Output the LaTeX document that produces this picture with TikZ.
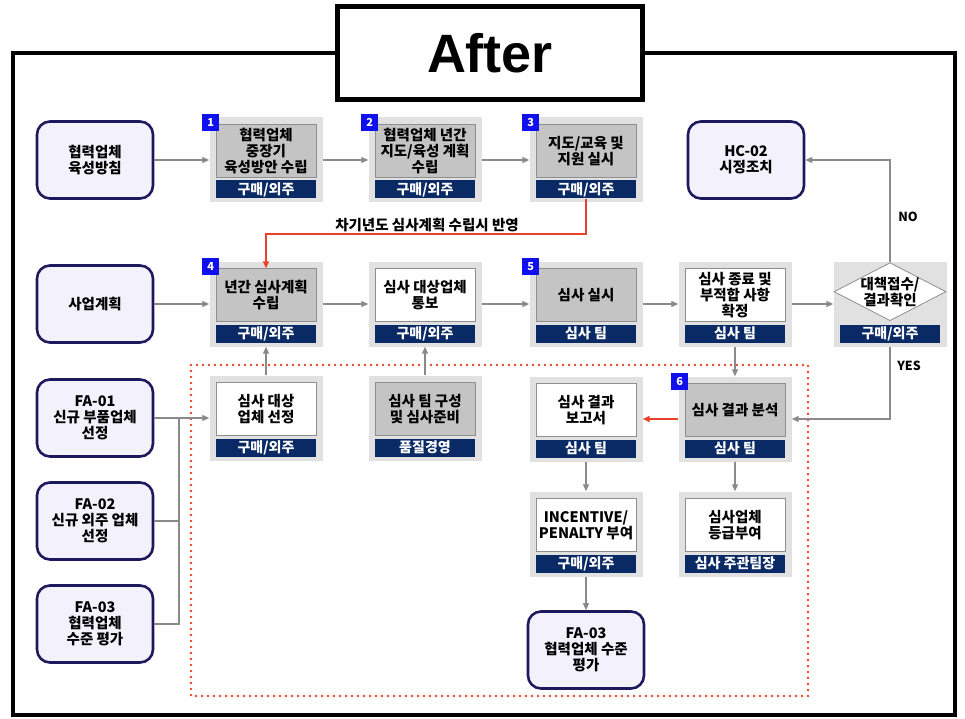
\documentclass[tikz,border=0pt]{standalone}
\usepackage{fontspec}
\setmainfont{Noto Sans CJK KR}
\newfontfamily\titlefont{Liberation Sans}
\usetikzlibrary{arrows.meta,positioning,shapes.geometric}
\definecolor{panelgray}{HTML}{E1E1E1}
\definecolor{boxgray}{HTML}{C4C4C4}
\definecolor{edgegray}{HTML}{8E8E8E}
\definecolor{navybar}{HTML}{0A2A66}
\definecolor{badgeblue}{HTML}{1010EE}
\definecolor{lavender}{HTML}{F3F1FB}
\definecolor{navyedge}{HTML}{1C1A5C}
\definecolor{linegray}{HTML}{8A8A8A}
\definecolor{redline}{HTML}{E8432A}
\newcommand{\boxfont}{\fontsize{14.5}{16}\selectfont\bfseries}
\newcommand{\tagfont}{\fontsize{14}{14}\selectfont\bfseries}

\begin{document}
\begin{tikzpicture}[x=1pt, y=-1pt,
    panel/.style={fill=panelgray, minimum width=113pt, minimum height=85pt, inner sep=0pt},
    graybox/.style={draw=edgegray, line width=0.8pt, fill=boxgray, minimum width=100pt,
      minimum height=53pt, inner sep=1pt, align=center, font=\boxfont},
    whitebox/.style={graybox, fill=white},
    decision/.style={diamond, aspect=2, draw=edgegray, line width=0.8pt, fill=white,
      minimum width=112pt, minimum height=58pt, inner sep=-5pt, align=center, font=\boxfont},
    tag/.style={fill=navybar, text=white, minimum width=100pt, minimum height=18pt,
      inner sep=0pt, font=\tagfont},
    badge/.style={fill=badgeblue, text=white, minimum size=17pt, inner sep=0pt,
      anchor=south east, font=\fontsize{11}{11}\selectfont\bfseries},
    source/.style={draw=navyedge, line width=2.6pt, fill=lavender, rounded corners=13pt,
      minimum width=116pt, minimum height=77pt, align=center, font=\boxfont},
    link/.style={draw=linegray, line width=1.2pt},
    flow/.style={link, -{Triangle[length=7pt, width=6pt]}},
    redflow/.style={draw=redline, line width=1.4pt, -{Triangle[length=7pt, width=6pt]}},
    answer/.style={font=\fontsize{12.5}{12.5}\selectfont\bfseries}]
  \useasboundingbox (0,0) rectangle (965,719);
  % frame and title
  \draw[line width=4pt] (13,53) rectangle (955,715);
  \node[draw, line width=5pt, fill=white, minimum width=305pt, minimum height=93pt,
    font=\titlefont\fontsize{54}{54}\selectfont\bfseries] (title) at (490,53) {After};
  \draw[redline, line width=2.8pt, line cap=round, dash pattern=on 0pt off 6pt]
    (191,365) rectangle (808,696);

  % input and output boxes
  \node[source] (r1) at (95,160) {협력업체\\육성방침};
  \node[source] (r2) at (95,304) {사업계획};
  \node[source] (r3) at (95,418) {FA-01\\신규 부품업체\\선정};
  \node[source] (r4) at (95,521) {FA-02\\신규 외주 업체\\선정};
  \node[source] (r5) at (95,624) {FA-03\\협력업체\\수준 평가};
  \node[source] (hc) at (746,160) {HC-02\\시정조치};
  \node[source] (r7) at (586,650) {FA-03\\협력업체 수준\\평가};

  % row 1
  \node[panel] (p1) at (266,160) {};
  \node[graybox, below=7pt of p1.north] (i1) {협력업체\\중장기\\육성방안 수립};
  \node[tag, below=63pt of p1.north] (b1) {구매/외주};
  \node[badge] at ([shift={(10,14)}]p1.north west) {1};
  \node[panel] (p2) at (425,160) {};
  \node[graybox, below=7pt of p2.north] (i2) {협력업체 년간\\지도/육성 계획\\수립};
  \node[tag, below=63pt of p2.north] (b2) {구매/외주};
  \node[badge] at ([shift={(10,14)}]p2.north west) {2};
  \node[panel] (p3) at (586,160) {};
  \node[graybox, below=7pt of p3.north] (i3) {지도/교육 및\\지원 실시};
  \node[tag, below=63pt of p3.north] (b3) {구매/외주};
  \node[badge] at ([shift={(10,14)}]p3.north west) {3};

  % row 2
  \node[panel] (p4) at (266,304) {};
  \node[graybox, below=7pt of p4.north] (i4) {년간 심사계획\\수립};
  \node[tag, below=63pt of p4.north] (b4) {구매/외주};
  \node[badge] at ([shift={(10,14)}]p4.north west) {4};
  \node[panel] (p5) at (425,304) {};
  \node[whitebox, below=7pt of p5.north] (i5) {심사 대상업체\\통보};
  \node[tag, below=63pt of p5.north] (b5) {구매/외주};
  \node[panel] (p6) at (586,304) {};
  \node[graybox, below=7pt of p6.north] (i6) {심사 실시};
  \node[tag, below=63pt of p6.north] (b6) {심사 팀};
  \node[badge] at ([shift={(10,14)}]p6.north west) {5};
  \node[panel] (p7) at (735,304) {};
  \node[whitebox, below=7pt of p7.north] (i7) {심사 종료 및\\부적합 사항\\확정};
  \node[tag, below=63pt of p7.north] (b7) {심사 팀};
  \node[panel] (p8) at (890,304) {};
  \node[decision, below=1pt of p8.north] (dia) {대책접수/\\결과확인};
  \node[tag, below=63pt of p8.north] (b8) {구매/외주};

  % row 3
  \node[panel] (p13) at (266,418) {};
  \node[whitebox, below=7pt of p13.north] (i13) {심사 대상\\업체 선정};
  \node[tag, below=63pt of p13.north] (b13) {구매/외주};
  \node[panel] (p14) at (425,418) {};
  \node[graybox, below=7pt of p14.north] (i14) {심사 팀 구성\\및 심사준비};
  \node[tag, below=63pt of p14.north] (b14) {품질경영};
  \node[panel] (p9) at (586,419) {};
  \node[whitebox, below=7pt of p9.north] (i9) {심사 결과\\보고서};
  \node[tag, below=63pt of p9.north] (b9) {심사 팀};
  \node[panel] (p10) at (735,419) {};
  \node[graybox, below=7pt of p10.north] (i10) {심사 결과 분석};
  \node[tag, below=63pt of p10.north] (b10) {심사 팀};
  \node[badge] at ([shift={(10,14)}]p10.north west) {6};

  % row 4
  \node[panel] (p11) at (586,534) {};
  \node[whitebox, below=7pt of p11.north] (i11) {INCENTIVE/\\PENALTY 부여};
  \node[tag, below=63pt of p11.north] (b11) {구매/외주};
  \node[panel] (p12) at (735,534) {};
  \node[whitebox, below=7pt of p12.north] (i12) {심사업체\\등급부여};
  \node[tag, below=63pt of p12.north] (b12) {심사 주관팀장};

  % connectors
  \draw[flow] (r1) -- (p1);
  \draw[flow] (p1) -- (p2);
  \draw[flow] (p2) -- (p3);
  \coordinate (redbend) at (0,234);
  \draw[redflow] (b3.south) -- (b3.south |- redbend) -| (i4.north);
  \node[font=\boxfont] (nextyr) at (427,225) {차기년도 심사계획 수립시 반영};
  \draw[flow] (r2) -- (p4);
  \draw[flow] (p4) -- (p5);
  \draw[flow] (p5) -- (p6);
  \draw[flow] (p6) -- (p7);
  \draw[flow] (p7) -- (p8);
  \draw[flow] (dia.north) |- (hc.east);
  \node[answer] (no) at (908,217) {NO};
  \draw[flow] (p8.south) |- (p10.east);
  \node[answer] (yes) at (909,366) {YES};
  \draw[flow] (p7.south) -- (p10.north);
  \draw[redflow] (p10.west) -- (p9.east);
  \draw[flow] (p9.south) -- (p11.north);
  \draw[flow] (p11.south) -- (r7.north);
  \draw[flow] (p10.south) -- (p12.north);
  \draw[flow] (p13.north) -- (p4.south);
  \draw[flow] (p14.north) -- (p5.south);
  \coordinate (fajoin) at (179,418);
  \draw[link] (r4.east) -| (fajoin);
  \draw[link] (r5.east) -| (fajoin);
  \draw[flow] (r3) -- (p13);
\end{tikzpicture}
\end{document}
